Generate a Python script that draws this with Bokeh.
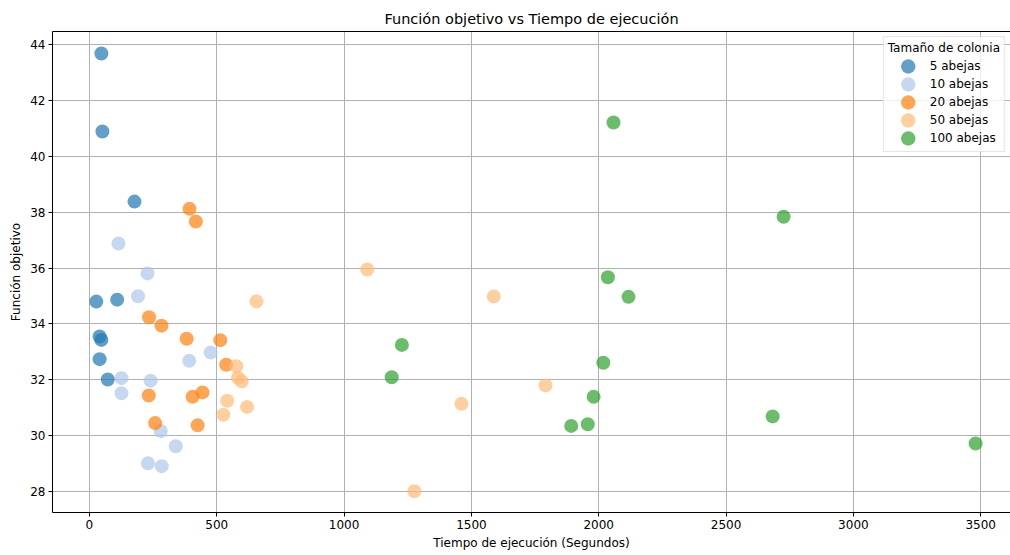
from bokeh.plotting import figure
from bokeh.embed import file_html
from bokeh.resources import INLINE
from bokeh.models import Range1d, FixedTicker, LinearAxis

t5 = [47, 51, 177, 27, 109, 40, 47, 40, 72]
f5 = [43.68, 40.89, 38.38, 34.80, 34.87, 33.55, 33.43, 32.74, 32.01]

t10 = [114, 228, 191, 392, 476, 126, 240, 126, 280, 339, 230, 284]
f10 = [36.88, 35.81, 34.99, 32.68, 32.98, 32.06, 31.97, 31.52, 30.17, 29.62, 29.01, 28.91]

t20 = [393, 418, 234, 283, 382, 514, 537, 233, 405, 444, 258, 425]
f20 = [38.12, 37.67, 34.24, 33.94, 33.47, 33.42, 32.54, 31.44, 31.39, 31.55, 30.45, 30.37]

t50 = [656, 577, 583, 598, 541, 619, 526, 1091, 1588, 1791, 1461, 1276]
f50 = [34.81, 32.49, 32.07, 31.95, 31.25, 31.03, 30.75, 35.95, 34.98, 31.80, 31.14, 28.01]

t100 = [2058, 2726, 2036, 2117, 1227, 1187, 2018, 1980, 1892, 1957, 2683, 3480]
f100 = [41.21, 37.84, 35.67, 34.97, 33.25, 32.09, 32.61, 31.39, 30.35, 30.41, 30.69, 29.72]

groups = ["5 abejas", "10 abejas", "20 abejas", "50 abejas", "100 abejas"]
colors = ["#1f77b4", "#aec7e8", "#ff7f0e", "#ffbb78", "#2ca02c"]
xticks = [0, 500, 1000, 1500, 2000, 2500, 3000, 3500]
yticks = [28, 30, 32, 34, 36, 38, 40, 42, 44]

FONT = "DejaVu Sans"

p = figure(width=1010, height=555, output_backend="svg", toolbar_location=None,
           title="Función objetivo vs Tiempo de ejecución",
           x_range=Range1d(-145, 3617), y_range=Range1d(27.25, 44.47),
           min_border_left=52, min_border_right=0, min_border_top=31, min_border_bottom=43)

data = [(t5, f5), (t10, f10), (t20, f20), (t50, f50), (t100, f100)]
for (tx, fy), g, c in zip(data, groups, colors):
    p.ellipse(tx, fy, width=14, height=14, width_units="screen", height_units="screen",
              fill_color=c, fill_alpha=0.7, line_color=None, legend_label=g)

p.title.align = "center"
p.title.text_font = FONT
p.title.text_font_size = "14.5px"
p.title.text_font_style = "normal"
p.title.text_color = "black"

xax = p.below[0]
yax = p.left[0]
xax.ticker = FixedTicker(ticks=xticks)
yax.ticker = FixedTicker(ticks=yticks)
xax.axis_label = "Tiempo de ejecución (Segundos)"
yax.axis_label = "Función objetivo"
for ax in (xax, yax):
    ax.axis_label_text_font = FONT
    ax.axis_label_text_font_size = "12px"
    ax.axis_label_text_font_style = "normal"
    ax.major_label_text_font = FONT
    ax.major_label_text_font_size = "12px"
    ax.major_tick_in = 0
    ax.major_tick_out = 4
    ax.major_label_standoff = 3
    ax.axis_label_standoff = 4
    ax.minor_tick_line_color = None
    ax.axis_line_color = "black"
    ax.major_tick_line_color = "black"
    ax.major_label_text_color = "black"
    ax.axis_label_text_color = "black"

p.xgrid.grid_line_color = "#b0b0b0"
p.ygrid.grid_line_color = "#b0b0b0"
p.xgrid.ticker = FixedTicker(ticks=xticks)
p.ygrid.ticker = FixedTicker(ticks=yticks)
p.outline_line_color = None

# top spine only (the reference's right spine falls outside the picture)
top = LinearAxis(ticker=FixedTicker(ticks=[]), major_label_text_font_size="0px",
                 major_tick_line_color=None, minor_tick_line_color=None,
                 axis_line_color="black", major_label_standoff=0,
                 major_tick_out=0, major_tick_in=0)
p.add_layout(top, "above")

leg = p.legend[0]
leg.location = "top_right"
leg.title = "Tamaño de colonia"
leg.title_text_font = FONT
leg.title_text_font_size = "12px"
leg.title_text_font_style = "normal"
leg.title_text_color = "black"
leg.title_standoff = 2
leg.label_text_font = FONT
leg.label_text_font_size = "12px"
leg.label_text_color = "black"
leg.label_height = 18
leg.glyph_height = 18
leg.glyph_width = 40
leg.label_standoff = 2
leg.spacing = 0
leg.padding = 4
leg.margin = 5
leg.border_line_color = "#cccccc"
leg.background_fill_alpha = 0.8

open("out.html", "w").write(file_html(p, INLINE))
